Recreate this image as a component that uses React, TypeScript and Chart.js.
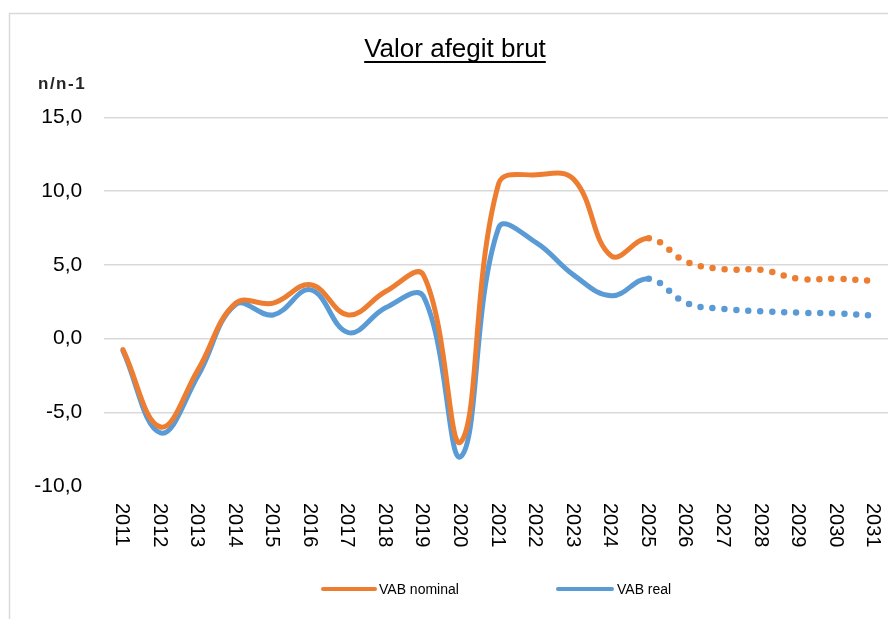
import React, { useEffect, useRef } from "react";
import { Chart, registerables } from "chart.js";

Chart.register(...registerables);

const years = ["2011", "2012", "2013", "2014", "2015", "2016", "2017", "2018", "2019", "2020", "2021", "2022", "2023", "2024", "2025", "2026", "2027", "2028", "2029", "2030", "2031"];
const vabNominal = [-0.75, -6.0, -2.1, 2.4, 2.4, 3.65, 1.6, 3.2, 4.3, -7.0, 10.5, 11.1, 10.8, 5.6, 6.8, 5.2, 4.7, 4.65, 4.05, 4.05, 3.9];
const vabReal = [-0.85, -6.4, -2.5, 2.3, 1.6, 3.3, 0.4, 2.1, 2.85, -8.0, 7.5, 6.5, 4.3, 2.9, 4.05, 2.4, 2.0, 1.85, 1.75, 1.7, 1.55];
const forecastFromIndex = 14; // 2025: last observed year
const seriesNames = ["VAB nominal", "VAB real"];
const seriesColors = ["#ED7D31", "#5B9BD5"];
const yTicks = { min: -10, max: 15, step: 5 };
const titleText = "Valor afegit brut";
const yTitle = "n/n-1";

const FONT = "'Liberation Sans', Arial, sans-serif";

const decorPlugin = {
  id: "decor",
  beforeDraw(chart: any) {
    const ctx = chart.ctx;
    ctx.save();
    ctx.fillStyle = "#ffffff";
    ctx.fillRect(0, 0, chart.width, chart.height);
    ctx.strokeStyle = "#d9d9d9";
    ctx.lineWidth = 1.5;
    ctx.strokeRect(9.5, 13.5, 1000, 1000);
    ctx.restore();
  },
  afterDraw(chart: any) {
    const ctx = chart.ctx;
    ctx.save();
    // title
    ctx.fillStyle = "#000";
    ctx.font = `26px ${FONT}`;
    ctx.textAlign = "center";
    ctx.textBaseline = "alphabetic";
    ctx.fillText(titleText, 455, 57);
    const w = ctx.measureText(titleText).width;
    ctx.fillRect(455 - w / 2, 61, w, 2);
    // y title
    ctx.textAlign = "left";
    ctx.font = `bold 17px ${FONT}`;
    ctx.fillStyle = "#262626";
    (ctx as any).letterSpacing = "1.5px";
    ctx.fillText(yTitle, 38, 89);
    (ctx as any).letterSpacing = "0px";
    // x labels rotated clockwise
    const xs = chart.scales.x;
    ctx.fillStyle = "#000";
    ctx.font = `20px ${FONT}`;
    years.forEach((lab, i) => {
      const x = xs.getPixelForValue(i);
      ctx.save();
      ctx.translate(x - 7, 503);
      ctx.rotate(Math.PI / 2);
      ctx.textAlign = "left";
      ctx.textBaseline = "alphabetic";
      ctx.fillText(lab, 0, 0);
      ctx.restore();
    });
    // legend
    const items = [
      { x0: 323, x1: 375, tx: 379 },
      { x0: 558, x1: 612, tx: 617 },
    ];
    ctx.font = `14px ${FONT}`;
    items.forEach((it, i) => {
      ctx.strokeStyle = seriesColors[i];
      ctx.lineWidth = 4;
      ctx.lineCap = "round";
      ctx.beginPath();
      ctx.moveTo(it.x0, 589);
      ctx.lineTo(it.x1, 589);
      ctx.stroke();
      ctx.fillStyle = "#000";
      ctx.textAlign = "left";
      ctx.textBaseline = "alphabetic";
      ctx.fillText(seriesNames[i], it.tx, 594);
    });
    ctx.restore();
  },
};

export default function App() {
  const ref = useRef<HTMLCanvasElement | null>(null);
  useEffect(() => {
    if (!ref.current) return;
    const makeDs = (label: string, data: number[], color: string) => ({
      label,
      data,
      borderColor: color,
      backgroundColor: color,
      borderWidth: 5,
      borderCapStyle: "round" as const,
      borderJoinStyle: "round" as const,
      pointRadius: 0,
      tension: 0.4,
      fill: false,
      segment: {
        borderDash: (c: any) => (c.p0DataIndex >= forecastFromIndex ? [0, 12] : undefined),
        borderWidth: (c: any) => (c.p0DataIndex >= forecastFromIndex ? 6.5 : undefined),
      },
    });
    const chart = new Chart(ref.current, {
      type: "line",
      data: {
        labels: years,
        datasets: [
          makeDs(seriesNames[0], vabNominal, seriesColors[0]),
          makeDs(seriesNames[1], vabReal, seriesColors[1]),
        ],
      },
      options: {
        animation: false,
        responsive: false,
        devicePixelRatio: 1,
        layout: { padding: { top: 117.3, left: 0, right: 0, bottom: 0 } },
        plugins: { legend: { display: false }, title: { display: false }, tooltip: { enabled: false } },
        scales: {
          x: {
            type: "category",
            offset: true,
            grid: { display: false },
            border: { display: false },
            ticks: { display: false },
            afterFit: (s: any) => {
              s.height = 619 - 486;
            },
          },
          y: {
            min: yTicks.min,
            max: yTicks.max,
            border: { display: false },
            grid: {
              drawTicks: false,
              lineWidth: 1.5,
              color: (c: any) => (c.tick && c.tick.value === yTicks.min ? "rgba(0,0,0,0)" : "#d9d9d9"),
            },
            ticks: {
              stepSize: yTicks.step,
              padding: 22,
              color: "#000",
              font: { family: FONT, size: 21 },
              callback: (v: any) => Number(v).toFixed(1).replace(".", ","),
            },
            afterFit: (s: any) => {
              s.width = 104.2;
            },
          },
        },
      },
      plugins: [decorPlugin],
    });
    return () => chart.destroy();
  }, []);
  return (
    <div style={{ position: "absolute", left: 0, top: 0, width: 888, height: 619, overflow: "hidden", background: "#fff" }}>
      <canvas ref={ref} width={893} height={619} style={{ display: "block" }} />
    </div>
  );
}
